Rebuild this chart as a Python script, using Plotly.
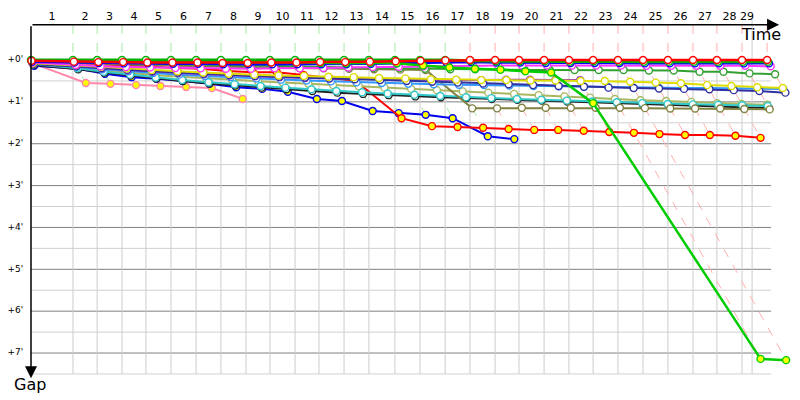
import plotly.graph_objects as go

# pixel scale of the original chart (px per minute)
PX_X = 23.45
PX_Y = 41.86
PAGE_PAD = 8  # browser body margin

# leader's crossing time of every lap, minutes (index 0 = start)
LEAD_TIME = [0.0, 1.79, 2.82, 3.88, 4.90, 5.97, 7.04, 8.10, 9.17, 10.19,
             11.26, 12.28, 13.35, 14.41, 15.52, 16.59, 17.66, 18.72, 19.79, 20.81,
             21.88, 22.94, 23.97, 25.03, 26.10, 27.16, 28.23, 29.25, 30.32, 31.39]
RACE_END = 30.75
LAP_LABELS = [str(n) for n in range(1, 30)]
GAP_TICKS = [0, 1, 2, 3, 4, 5, 6, 7]
GAP_LABELS = ["+0'", "+1'", "+2'", "+3'", "+4'", "+5'", "+6'", "+7'"]

# gap to leader (minutes) per lap, lap 0 first
gap_green = [0.00, 0.00, 0.00, 0.00, 0.00, 0.00, 0.00, 0.00, 0.00, 0.00, 0.00, 0.00, 0.00, 0.00, 0.00,
             0.00, 0.00, 0.02, 0.03, 0.03, 0.03, 0.04, 0.03, 0.04, 0.04, 0.04, 0.04, 0.04, 0.04, 0.04]
gap_red = [0.02, 0.04, 0.05, 0.05, 0.06, 0.06, 0.06, 0.07, 0.07, 0.06, 0.06, 0.05, 0.05, 0.04, 0.03,
           0.02, 0.01, 0.00, 0.00, 0.00, 0.00, 0.00, 0.00, 0.00, 0.00, 0.00, 0.00, 0.00, 0.00, 0.00]
gap_lime = [0.01, 0.02, 0.02, 0.03, 0.03, 0.03, 0.04, 0.04, 0.05, 0.055, 0.055, 0.07, 0.08, 0.065,
            0.08, 0.13, 0.18, 0.21, 0.23, 0.27, 0.30, 1.03, 7.14, 7.17]
gap_blue = [0.04, 0.06, 0.07, 0.08, 0.08, 0.09, 0.09, 0.10, 0.10, 0.10, 0.10, 0.10, 0.10, 0.09, 0.08,
            0.07, 0.06, 0.05, 0.06, 0.06, 0.07, 0.07, 0.07, 0.07, 0.08, 0.08, 0.08, 0.08, 0.08, 0.08]
gap_magenta = [0.06, 0.12, 0.15, 0.17, 0.18, 0.19, 0.20, 0.21, 0.21, 0.20, 0.20, 0.19, 0.18, 0.17, 0.16,
               0.15, 0.14, 0.13, 0.13, 0.13, 0.13, 0.13, 0.13, 0.13, 0.14, 0.14, 0.14, 0.14, 0.14, 0.15]
gap_darkgreen = [0.03, 0.05, 0.07, 0.09, 0.10, 0.11, 0.12, 0.13, 0.14, 0.15, 0.16, 0.17, 0.18, 0.19, 0.20,
                 0.21, 0.22, 0.22, 0.23, 0.24, 0.24, 0.24, 0.24, 0.24, 0.25, 0.25, 0.28, 0.28, 0.32, 0.34]
gap_olive = [0.05, 0.08, 0.10, 0.12, 0.13, 0.14, 0.15, 0.16, 0.17, 0.18, 0.19, 0.20, 0.21, 0.22, 0.23,
             0.24, 1.155, 1.155, 1.14, 1.14, 1.14, 1.14, 1.14, 1.15, 1.16, 1.16, 1.16, 1.17, 1.18]
gap_yellow = [0.08, 0.12, 0.16, 0.20, 0.24, 0.27, 0.30, 0.33, 0.35, 0.37, 0.38, 0.40, 0.41, 0.43, 0.44,
              0.46, 0.47, 0.48, 0.48, 0.49, 0.49, 0.50, 0.50, 0.52, 0.54, 0.555, 0.60, 0.62, 0.65, 0.67]
gap_navy = [0.10, 0.15, 0.19, 0.23, 0.27, 0.30, 0.33, 0.36, 0.38, 0.40, 0.42, 0.44, 0.46, 0.48, 0.50,
            0.52, 0.54, 0.56, 0.58, 0.60, 0.62, 0.64, 0.66, 0.67, 0.68, 0.69, 0.70, 0.72, 0.74, 0.78]
gap_purple = [0.08, 0.14, 0.20, 0.24, 0.28, 0.31, 0.34, 0.37, 0.39, 0.41, 0.43, 0.44, 0.45, 0.46, 0.47,
              0.48, 0.48, 0.48, 0.47, 0.47, 0.48, 0.48]
gap_skyblue = [0.09, 0.16, 0.22, 0.27, 0.31, 0.35, 0.38, 0.41, 0.44, 0.47, 0.49, 0.51, 0.53, 0.55, 0.57,
               0.58, 0.59, 0.60, 0.61, 0.62, 0.63, 0.64, 0.65, 0.66, 0.66, 0.67, 0.67, 0.68, 0.68, 0.69]
gap_cyan = [0.10, 0.20, 0.28, 0.35, 0.42, 0.48, 0.53, 0.58, 0.62, 0.66, 0.70, 0.74, 0.77, 0.80, 0.83,
            0.86, 0.89, 0.91, 0.93, 0.95, 0.97, 0.99, 1.01, 1.03, 1.05, 1.06, 1.07, 1.08, 1.10]
gap_black = [0.12, 0.22, 0.30, 0.37, 0.44, 0.50, 0.56, 0.61, 0.66, 0.70, 0.74, 0.78, 0.81, 0.84, 0.87,
             0.89, 0.91, 0.93, 0.95, 0.97, 0.99, 1.01, 1.03, 1.05, 1.07, 1.09, 1.11, 1.13, 1.15]
gap_khaki = [0.10, 0.18, 0.25, 0.31, 0.36, 0.40, 0.44, 0.48, 0.51, 0.54, 0.57, 0.60, 0.63, 0.66, 0.69,
             0.72, 0.75, 0.78, 0.81, 0.84, 0.87, 0.90, 0.93, 0.96, 0.98, 1.00, 1.03, 1.05, 1.07]
gap_redy = [0.05, 0.07, 0.10, 0.13, 0.17, 0.19, 0.21, 0.26, 0.29, 0.29, 0.36, 0.43, 0.50, 1.39, 1.58,
            1.60, 1.62, 1.65, 1.67, 1.67, 1.69, 1.72, 1.74, 1.77, 1.79, 1.79, 1.81, 1.86]
gap_bluey = [0.14, 0.21, 0.33, 0.41, 0.45, 0.50, 0.57, 0.65, 0.69, 0.76, 0.93, 0.98, 1.22, 1.27, 1.31,
             1.39, 1.82, 1.89]
gap_pink = [0.08, 0.55, 0.57, 0.60, 0.62, 0.645, 0.67, 0.93]

# drawing order: back first, front last -> (gaps, line colour, marker fill, line width)
CARS = [
    (gap_pink, "#ff88aa", "#ffff00", 2),
    (gap_bluey, "#0000ee", "#ffff00", 2),
    (gap_redy, "#ff0000", "#ffff00", 2),
    (gap_khaki, "#a8b860", "#ffffff", 2),
    (gap_black, "#202020", "#ffffff", 2),
    (gap_cyan, "#30c8c8", "#ffffff", 2),
    (gap_olive, "#808040", "#ffffff", 2),
    (gap_skyblue, "#3399ff", "#ffffff", 2),
    (gap_purple, "#9933cc", "#ffffff", 2),
    (gap_navy, "#3030a0", "#ffffff", 2),
    (gap_yellow, "#dddd00", "#ffffff", 2),
    (gap_darkgreen, "#33a033", "#ffffff", 2),
    (gap_magenta, "#ff33ff", "#ffffff", 2),
    (gap_blue, "#0000ff", "#ffffff", 2.5),
    (gap_lime, "#00cc00", "#ffff00", 2.5),
    (gap_green, "#00b000", "#ffffff", 3),
    (gap_red, "#ff0000", "#ffffff", 2.5),
]

AXIS_Y = -0.84          # gap value where the time axis sits
GRID_END = 31.56
GRID_BOTTOM = 7.5

fig = go.Figure()

# grid: horizontal lines
for k in range(0, 16):
    g = k * 0.5
    col = "#808080" if k % 2 == 0 else "#d0d0d0"
    fig.add_trace(go.Scatter(x=[0, GRID_END], y=[g, g], mode="lines",
                             line=dict(color=col, width=1), hoverinfo="skip", showlegend=False))

# grid: vertical lines at each lap crossing before the end of race
vx, vy = [], []
for t in LEAD_TIME[1:]:
    if t <= RACE_END:
        vx += [t, t, None]
        vy += [0, GRID_BOTTOM, None]
vx += [RACE_END, RACE_END, None]
vy += [-0.96, GRID_BOTTOM, None]
fig.add_trace(go.Scatter(x=vx, y=vy, mode="lines", line=dict(color="#cccccc", width=1),
                         hoverinfo="skip", showlegend=False))

# lap lines (dashed), coloured after the leader of the lap
for lap in range(1, 30):
    on_lap = [(c[0][lap], c[1]) for c in CARS if len(c[0]) > lap]
    lead_col = min(on_lap, key=lambda p: p[0])[1]
    deepest = max(p[0] for p in on_lap)
    t = LEAD_TIME[lap]
    col = "#a6e8a6" if lead_col == "#00b000" else "#ffb0b0"
    fig.add_trace(go.Scatter(x=[t, t, t + deepest], y=[AXIS_Y, 0, deepest], mode="lines",
                             line=dict(color=col, width=1, dash="dash"),
                             hoverinfo="skip", showlegend=False))

# cars
for gaps, col, fill, width in CARS:
    xs = [LEAD_TIME[i] + g for i, g in enumerate(gaps)]
    fig.add_trace(go.Scatter(
        x=xs, y=gaps, mode="lines+markers",
        line=dict(color=col, width=width),
        marker=dict(size=7, color=fill, line=dict(color=col, width=1.4)),
        showlegend=False))

# lap labels above the time axis
lab_x = []
for n in range(1, 30):
    lab_x.append((LEAD_TIME[n - 1] + min(LEAD_TIME[n], RACE_END)) / 2)
fig.add_trace(go.Scatter(x=lab_x, y=[-1.03] * len(lab_x), mode="text", text=LAP_LABELS,
                         textfont=dict(family="DejaVu Sans", size=11, color="black"),
                         hoverinfo="skip", showlegend=False))

# gap labels
fig.add_trace(go.Scatter(x=[-0.33] * len(GAP_TICKS), y=GAP_TICKS, mode="text", text=GAP_LABELS,
                         textposition="middle left",
                         textfont=dict(family="DejaVu Sans", size=9, color="black"),
                         hoverinfo="skip", showlegend=False))

# axes with arrows
fig.add_annotation(x=31.9, y=AXIS_Y, ax=0, ay=AXIS_Y, xref="x", yref="y", axref="x", ayref="y",
                   text="", showarrow=True, arrowhead=2, arrowsize=1.6, arrowwidth=1.5,
                   arrowcolor="black")
fig.add_annotation(x=0, y=7.6, ax=0, ay=AXIS_Y, xref="x", yref="y", axref="x", ayref="y",
                   text="", showarrow=True, arrowhead=2, arrowsize=1.6, arrowwidth=1.5,
                   arrowcolor="black")
fig.add_annotation(x=31.15, y=-0.62, text="Time", showarrow=False,
                   font=dict(family="DejaVu Sans", size=16, color="black"))
fig.add_annotation(x=-0.05, y=7.74, text="Gap", showarrow=False, yanchor="middle",
                   font=dict(family="DejaVu Sans", size=16, color="black"))

fig.update_layout(
    width=800 - PAGE_PAD, height=400 - PAGE_PAD,
    margin=dict(l=0, r=0, t=0, b=0),
    paper_bgcolor="white", plot_bgcolor="white",
    xaxis=dict(range=[(PAGE_PAD - 31) / PX_X, 769 / PX_X], visible=False, fixedrange=True),
    yaxis=dict(range=[340 / PX_Y, (PAGE_PAD - 60) / PX_Y], visible=False, fixedrange=True),
)

fig.write_html("out.html")
